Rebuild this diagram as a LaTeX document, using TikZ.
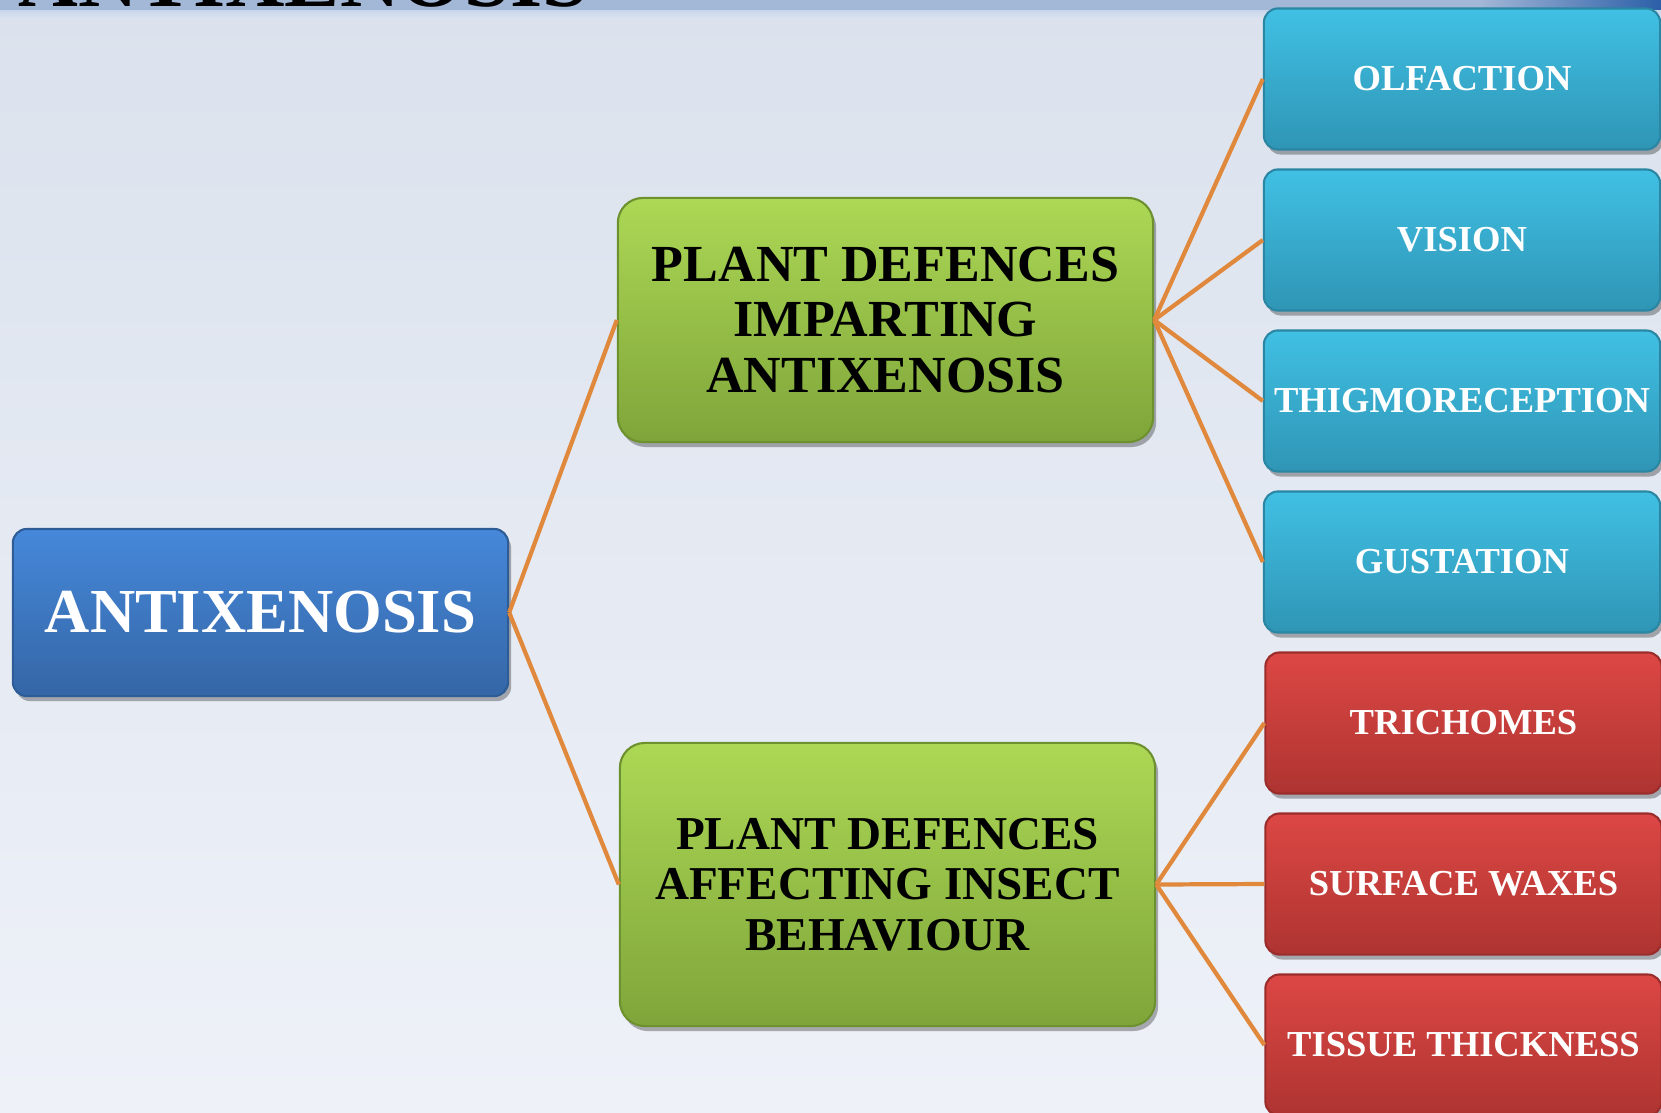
\documentclass[tikz,border=0pt]{standalone}
\usepackage{fontspec}
\setmainfont{Liberation Serif}
\usetikzlibrary{shadows}
\definecolor{bgT}{HTML}{DBE2ED}
\definecolor{bgB}{HTML}{EEF1F8}
\definecolor{bandD}{HTML}{A3B7D7}
\definecolor{bandL}{HTML}{C8D6EC}
\definecolor{cornerB}{HTML}{2C5FA8}
\definecolor{blueT}{HTML}{4688DA}
\definecolor{blueB}{HTML}{3466A6}
\definecolor{blueD}{HTML}{2E5C96}
\definecolor{greenT}{HTML}{ACD855}
\definecolor{greenB}{HTML}{7FA53A}
\definecolor{greenD}{HTML}{6E9130}
\definecolor{cyanT}{HTML}{40C0E4}
\definecolor{cyanB}{HTML}{2F95B5}
\definecolor{cyanD}{HTML}{2A86A3}
\definecolor{redT}{HTML}{DC4744}
\definecolor{redB}{HTML}{AE3431}
\definecolor{redD}{HTML}{9A2D2B}
\definecolor{orangeL}{HTML}{E0883C}
\begin{document}
\begin{tikzpicture}[x=0.01cm,y=-0.01cm,
  box/.style={rectangle, rounded corners=0.14cm, inner sep=0pt, align=center,
    line width=0.6pt,
    drop shadow={shadow xshift=0.03cm, shadow yshift=-0.05cm, opacity=0.3, fill=black}},
  antixbox/.style={box, top color=blueT, bottom color=blueB, draw=blueD, text=white,
    minimum width=4.95cm, minimum height=1.67cm, font=\bfseries\fontsize{17.8}{20}\selectfont},
  greenbox/.style={box, rounded corners=0.25cm, top color=greenT, bottom color=greenB,
    draw=greenD, text=black, minimum width=5.35cm},
  leafbox/.style={box, text=white, minimum width=3.96cm, minimum height=1.41cm,
    font=\bfseries\fontsize{10.4}{12}\selectfont},
  cyanbox/.style={leafbox, top color=cyanT, bottom color=cyanB, draw=cyanD},
  redbox/.style={leafbox, top color=redT, bottom color=redB, draw=redD},
  link/.style={draw=orangeL, line width=1.2pt}]
\useasboundingbox (0,0) rectangle (1661,1112);
% background
\shade[top color=bgT, bottom color=bgB] (0,0) rectangle (1661,1112);
\fill[bandD] (0,0) rectangle (1661,10);
\shade[top color=bandL, bottom color=bgT] (0,10) rectangle (1661,18);
\shade[left color=bandD, right color=cornerB] (1480,0) rectangle (1661,9);
% cut-off title
\node[anchor=base west, inner sep=0pt, font=\bfseries\fontsize{23.5}{26}\selectfont, text=black]
  (title) at (18,6) {ANTIXENOSIS};
% nodes
\node[antixbox] (root) at (260.5,612.5) {ANTIXENOSIS};
\node[greenbox, minimum height=2.44cm, font=\bfseries\fontsize{14.8}{15.8}\selectfont]
  (g1) at (885.5,320) {PLANT DEFENCES\\IMPARTING\\ANTIXENOSIS};
\node[greenbox, minimum height=2.83cm, font=\bfseries\fontsize{13.4}{14.3}\selectfont]
  (g2) at (887.5,884.5) {PLANT DEFENCES\\AFFECTING INSECT\\BEHAVIOUR};
\node[cyanbox] (c1) at (1462,79) {OLFACTION};
\node[cyanbox] (c2) at (1462,240) {VISION};
\node[cyanbox] (c3) at (1462,401) {THIGMORECEPTION};
\node[cyanbox] (c4) at (1462,562) {GUSTATION};
\node[redbox] (r1) at (1463.5,723) {TRICHOMES};
\node[redbox] (r2) at (1463.5,884) {SURFACE WAXES};
\node[redbox] (r3) at (1463.5,1045) {TISSUE THICKNESS};
% connectors
\draw[link] (root.east) -- (g1.west);
\draw[link] (root.east) -- (g2.west);
\foreach \c in {c1,c2,c3,c4} \draw[link] (g1.east) -- (\c.west);
\foreach \r in {r1,r2,r3} \draw[link] (g2.east) -- (\r.west);
\end{tikzpicture}
\end{document}
